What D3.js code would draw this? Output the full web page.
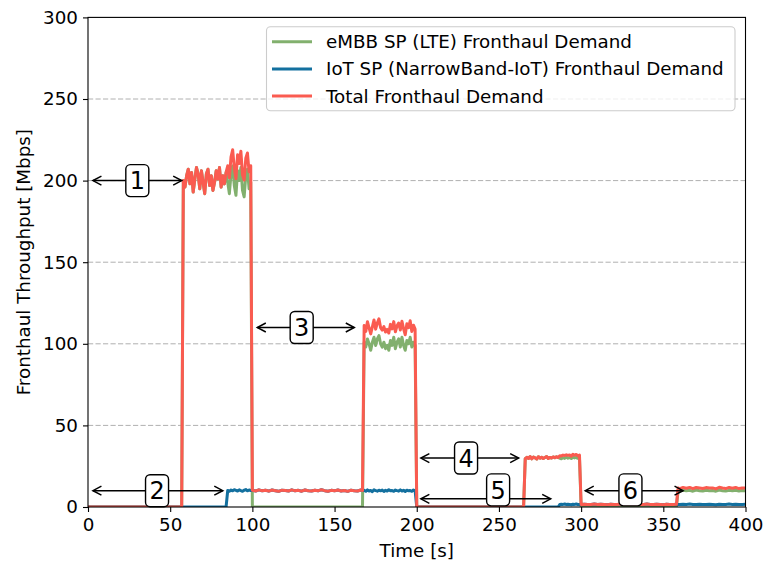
<!DOCTYPE html>
<html>
<head>
<meta charset="utf-8">
<script src="https://cdn.jsdelivr.net/npm/d3@7"></script>
<style>
  html, body { margin: 0; padding: 0; background: #ffffff; }
  svg { display: block; font-family: "DejaVu Sans", sans-serif; }
</style>
</head>
<body>
<svg id="chart" width="764" height="563"></svg>
<script>
// Sample times in seconds (dense where the demand fluctuates)
const timeSec = [
  0, 57,
  58, 59, 60, 61, 62, 63, 64, 65, 66, 67, 68, 69, 70, 71, 72, 73, 74, 75, 76, 77, 78,
  79, 80, 81, 82, 83, 84, 85, 86, 87, 88, 89, 90, 91, 92, 93, 94, 95, 96, 97, 98, 99,
  100, 102, 104, 106, 108, 110, 112, 114, 116, 118, 120, 122, 124, 126, 128, 130, 132,
  134, 136, 138, 140, 142, 144, 146, 148, 150, 152, 154, 156, 158, 160, 162, 164, 166, 167,
  168, 169, 170, 171, 172, 173, 174, 175, 176, 177, 178, 179, 180, 181, 182, 183, 184,
  185, 186, 187, 188, 189, 190, 191, 192, 193, 194, 195, 196, 197, 198, 199,
  200, 265,
  266, 267, 268, 269, 270, 271, 272, 273, 274, 275, 276, 277, 278, 279, 280, 281, 282,
  283, 284, 285, 286, 287, 288, 289, 290, 291, 292, 293, 294, 295, 296, 297, 298, 299,
  300, 302, 304, 306, 308, 310, 312, 314, 316, 318, 320, 322, 324, 326, 328, 330, 332,
  334, 336, 338, 340, 342, 344, 346, 348, 350, 352, 354, 356, 358,
  359, 360, 362, 364, 366, 368, 370, 372, 374, 376, 378, 380, 382, 384, 386, 388, 390,
  392, 394, 396, 398, 400
];

// eMBB SP (LTE) fronthaul demand [Mbps]
const embbDemand = [
  0, 0,
  200, 196, 203, 207, 198, 205, 193, 201, 208, 204, 195, 206, 199, 192, 204, 207, 197, 203, 194, 199, 206,
  201, 208, 196, 203, 198, 205, 199, 192, 204, 209, 197, 191, 206, 200, 208, 194, 190, 203, 207, 195, 199,
  0, 0, 0, 0, 0, 0, 0, 0, 0, 0, 0, 0, 0, 0, 0, 0, 0,
  0, 0, 0, 0, 0, 0, 0, 0, 0, 0, 0, 0, 0, 0, 0, 0, 0, 0,
  101, 98, 103, 100, 96, 101, 104, 99, 103, 105, 100, 98, 101, 97, 99, 96, 102,
  99, 104, 97, 101, 103, 98, 104, 99, 96, 102, 100, 104, 98, 101, 99,
  0, 0,
  29.6, 30.4, 29.8, 30.9, 29.5, 30.6, 30.1, 29.4, 30.8, 29.9, 30.5, 29.7, 30.3, 30.9, 29.8, 30.4, 30.0,
  30.7, 30.2, 30.8, 30.3, 29.9, 29.6, 30.2, 29.8, 30.5, 29.9, 30.3, 29.7, 30.6, 30.1, 30.4, 29.8, 30.2,
  0, 0, 0, 0, 0, 0, 0, 0, 0, 0, 0, 0, 0, 0, 0, 0, 0,
  0, 0, 0, 0, 0, 0, 0, 0, 0, 0, 0, 0, 0,
  10.1, 9.8, 10.3, 9.9, 10.2, 9.7, 10.4, 10.0, 9.8, 10.3, 9.9, 10.1, 9.7, 10.4, 10.0, 9.8, 10.2,
  9.9, 10.3, 9.8, 10.1, 10.0
];

// IoT SP (NarrowBand-IoT) fronthaul demand [Mbps]
const iotDemand = [
  0, 0,
  0, 0, 0, 0, 0, 0, 0, 0, 0, 0, 0, 0, 0, 0, 0, 0, 0, 0, 0, 0, 0,
  0, 0, 0, 0, 0, 0, 10.1, 9.7, 10.4, 9.9, 10.6, 10.2, 9.8, 10.5, 10.0, 9.6, 10.3, 10.7, 9.9, 10.4, 10.1,
  10.2, 9.8, 10.5, 9.9, 10.3, 9.7, 10.4, 10.0, 9.6, 10.3, 10.1, 9.8, 10.5, 9.9, 10.2, 9.7, 10.4,
  10.0, 9.8, 10.3, 9.9, 10.6, 10.0, 9.7, 10.2, 9.9, 10.4, 9.8, 10.1, 9.6, 10.3, 10.0, 9.8, 10.4, 10.1,
  10.2, 9.6, 10.5, 9.8, 10.1, 9.4, 10.6, 10.0, 9.7, 10.3, 9.9, 10.4, 9.5, 10.2, 9.8, 10.6, 9.9,
  10.1, 9.6, 10.4, 10.0, 9.7, 10.5, 9.8, 10.2, 9.5, 10.3, 9.9, 10.1, 9.6, 10.4, 10.0,
  0, 0,
  0, 0, 0, 0, 0, 0, 0, 0, 0, 0, 0, 0, 0, 0, 0, 0, 0,
  0, 0, 0, 0, 1.5, 1.7, 1.6, 1.8, 1.5, 1.7, 1.6, 1.4, 1.7, 1.6, 1.8, 1.5, 1.6,
  1.6, 1.7, 1.5, 1.6, 1.8, 1.5, 1.7, 1.6, 1.4, 1.7, 1.6, 1.5, 1.8, 1.6, 1.7, 1.5, 1.6,
  1.7, 1.5, 1.6, 1.8, 1.6, 1.5, 1.7, 1.6, 1.4, 1.7, 1.6, 1.5, 1.7,
  1.6, 1.5, 1.7, 1.6, 1.8, 1.5, 1.6, 1.7, 1.5, 1.6, 1.7, 1.6, 1.4, 1.7, 1.6, 1.5, 1.8,
  1.6, 1.7, 1.5, 1.6, 1.7
];

// Total fronthaul demand [Mbps]
const totalDemand = [
  0, 0,
  200, 196, 203, 207, 198, 205, 193, 201, 208, 204, 195, 206, 199, 192, 204, 207, 197, 203, 194, 199, 206,
  201, 208, 196, 203, 198, 205, 209.1, 201.7, 214.4, 218.9, 207.6, 201.2, 215.8, 210.5, 218.0, 203.6, 200.3, 213.7, 216.9, 205.4, 209.1,
  10.2, 9.8, 10.5, 9.9, 10.3, 9.7, 10.4, 10.0, 9.6, 10.3, 10.1, 9.8, 10.5, 9.9, 10.2, 9.7, 10.4,
  10.0, 9.8, 10.3, 9.9, 10.6, 10.0, 9.7, 10.2, 9.9, 10.4, 9.8, 10.1, 9.6, 10.3, 10.0, 9.8, 10.4, 10.1,
  111.2, 107.6, 113.5, 109.8, 106.1, 110.4, 114.6, 109.0, 112.7, 115.3, 109.9, 108.4, 110.5, 107.2, 108.8, 106.6, 111.9,
  109.1, 113.6, 107.4, 111.0, 112.7, 108.5, 113.8, 109.2, 105.5, 112.3, 109.9, 114.1, 107.6, 111.4, 109.0,
  0, 0,
  29.6, 30.4, 29.8, 30.9, 29.5, 30.6, 30.1, 29.4, 30.8, 29.9, 30.5, 29.7, 30.3, 30.9, 29.8, 30.4, 30.0,
  30.7, 30.2, 30.8, 30.3, 31.4, 31.3, 31.8, 31.6, 32.0, 31.6, 31.9, 31.1, 32.3, 31.7, 32.2, 31.3, 31.8,
  1.6, 1.7, 1.5, 1.6, 1.8, 1.5, 1.7, 1.6, 1.4, 1.7, 1.6, 1.5, 1.8, 1.6, 1.7, 1.5, 1.6,
  1.7, 1.5, 1.6, 1.8, 1.6, 1.5, 1.7, 1.6, 1.4, 1.7, 1.6, 1.5, 1.7,
  11.7, 11.3, 12.0, 11.5, 12.0, 11.2, 12.0, 11.7, 11.3, 11.9, 11.6, 11.7, 11.1, 12.1, 11.6, 11.3, 12.0,
  11.5, 12.0, 11.3, 11.7, 11.7
];

const seriesNames = [
  "eMBB SP (LTE) Fronthaul Demand",
  "IoT SP (NarrowBand-IoT) Fronthaul Demand",
  "Total Fronthaul Demand"
];
const seriesColors = ["#82b06e", "#13709f", "#fa5b50"];

const xTicks = [0, 50, 100, 150, 200, 250, 300, 350, 400];
const yTicks = [0, 50, 100, 150, 200, 250, 300];
const gridLevels = [50, 100, 150, 200, 250];

// Phase annotations: double-headed arrows with a boxed number
const phaseLabels = ["1", "2", "3", "4", "5", "6"];
const arrowFrom   = [3, 3, 103, 202.5, 202.5, 302.5];
const arrowTo     = [57, 82, 162, 262, 281.5, 362];
const arrowLevel  = [200, 10, 110, 30, 5, 10];
const labelTime   = [30, 42, 130, 230, 249.5, 330];
const labelLevel  = [200, 10, 110, 30, 10.5, 10.5];

// ---- layout ----
const W = 764, H = 563;
const margin = { left: 88, right: 18.5, top: 17.4, bottom: 56 };
const plotW = W - margin.left - margin.right;
const plotH = H - margin.top - margin.bottom;
const FONT = 18.3;

const svg = d3.select("#chart");
const x = d3.scaleLinear().domain([0, 400]).range([margin.left, margin.left + plotW]);
const y = d3.scaleLinear().domain([0, 300]).range([margin.top + plotH, margin.top]);

svg.append("defs").append("clipPath").attr("id", "plot-clip")
  .append("rect")
  .attr("x", margin.left).attr("y", margin.top)
  .attr("width", plotW).attr("height", plotH);

// horizontal dashed grid
svg.append("g").selectAll("line").data(gridLevels).join("line")
  .attr("x1", margin.left).attr("x2", margin.left + plotW)
  .attr("y1", d => y(d)).attr("y2", d => y(d))
  .attr("stroke", "#b0b0b0").attr("stroke-width", 1)
  .attr("stroke-dasharray", "5.2,2.3");

// demand lines
const seriesValues = [embbDemand, iotDemand, totalDemand];
const line = d3.line().x(d => x(d[0])).y(d => y(d[1]));
const lineG = svg.append("g").attr("clip-path", "url(#plot-clip)");
seriesValues.forEach((vals, i) => {
  const pts = timeSec.map((t, k) => [t, vals[k]]);
  lineG.append("path")
    .datum(pts)
    .attr("d", line)
    .attr("fill", "none")
    .attr("stroke", seriesColors[i])
    .attr("stroke-width", 3)
    .attr("stroke-linejoin", "round");
});

// annotation arrows
const annG = svg.append("g");
const headLen = 8.5, headHalf = 4.5;
phaseLabels.forEach((lab, i) => {
  const x1 = x(arrowFrom[i]), x2 = x(arrowTo[i]), ya = y(arrowLevel[i]);
  annG.append("line")
    .attr("x1", x1).attr("x2", x2).attr("y1", ya).attr("y2", ya)
    .attr("stroke", "#000").attr("stroke-width", 1.5);
  annG.append("path")
    .attr("d", `M${x1 + headLen},${ya - headHalf}L${x1},${ya}L${x1 + headLen},${ya + headHalf}`)
    .attr("fill", "none").attr("stroke", "#000").attr("stroke-width", 1.5);
  annG.append("path")
    .attr("d", `M${x2 - headLen},${ya - headHalf}L${x2},${ya}L${x2 - headLen},${ya + headHalf}`)
    .attr("fill", "none").attr("stroke", "#000").attr("stroke-width", 1.5);

  const cx = x(labelTime[i]), cy = y(labelLevel[i]);
  const bw = 23, bh = 32;
  annG.append("rect")
    .attr("x", cx - bw / 2).attr("y", cy - bh / 2)
    .attr("width", bw).attr("height", bh)
    .attr("rx", 4.5).attr("ry", 4.5)
    .attr("fill", "#fff").attr("stroke", "#000").attr("stroke-width", 1.4);
  annG.append("text")
    .attr("x", cx).attr("y", cy + 8.7)
    .attr("text-anchor", "middle")
    .attr("font-size", 24)
    .attr("fill", "#000")
    .text(lab);
});

// axes frame
svg.append("rect")
  .attr("x", margin.left).attr("y", margin.top)
  .attr("width", plotW).attr("height", plotH)
  .attr("fill", "none").attr("stroke", "#000").attr("stroke-width", 1.1);

// x axis
const xAxis = svg.append("g")
  .attr("transform", `translate(0,${margin.top + plotH})`)
  .call(d3.axisBottom(x).tickValues(xTicks).tickSize(5).tickPadding(6).tickFormat(d3.format("d")));
xAxis.select(".domain").remove();
xAxis.selectAll("line").attr("stroke", "#000").attr("stroke-width", 1.1);
xAxis.selectAll("text").attr("font-size", FONT).attr("fill", "#000")
  .attr("font-family", "DejaVu Sans, sans-serif");

// y axis
const yAxis = svg.append("g")
  .attr("transform", `translate(${margin.left},0)`)
  .call(d3.axisLeft(y).tickValues(yTicks).tickSize(5).tickPadding(5).tickFormat(d3.format("d")));
yAxis.select(".domain").remove();
yAxis.selectAll("line").attr("stroke", "#000").attr("stroke-width", 1.1);
yAxis.selectAll("text").attr("font-size", FONT).attr("fill", "#000")
  .attr("font-family", "DejaVu Sans, sans-serif");

// axis titles
svg.append("text")
  .attr("x", margin.left + plotW / 2).attr("y", 557)
  .attr("text-anchor", "middle").attr("font-size", FONT).attr("fill", "#000")
  .text("Time [s]");
svg.append("text")
  .attr("transform", `translate(30,${margin.top + plotH / 2}) rotate(-90)`)
  .attr("text-anchor", "middle").attr("font-size", FONT).attr("fill", "#000")
  .text("Fronthaul Throughput [Mbps]");

// legend
const legX = 266.5, legY = 26.7, legW = 468.5, legH = 84;
const legG = svg.append("g");
legG.append("rect")
  .attr("x", legX).attr("y", legY).attr("width", legW).attr("height", legH)
  .attr("rx", 4).attr("ry", 4)
  .attr("fill", "#fff").attr("fill-opacity", 0.8)
  .attr("stroke", "#cccccc").attr("stroke-width", 1.1);
seriesNames.forEach((name, i) => {
  const ry = 41.7 + i * 27.2;
  legG.append("line")
    .attr("x1", 272).attr("x2", 312).attr("y1", ry).attr("y2", ry)
    .attr("stroke", seriesColors[i]).attr("stroke-width", 3);
  legG.append("text")
    .attr("x", 326).attr("y", ry + 6.5)
    .attr("font-size", FONT).attr("fill", "#000")
    .text(name);
});
</script>
</body>
</html>
